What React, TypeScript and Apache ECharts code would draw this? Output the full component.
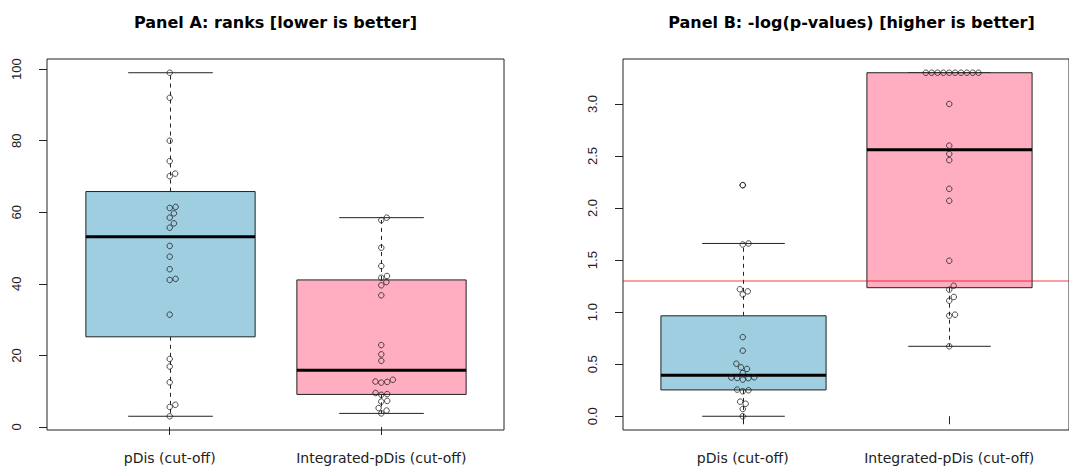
import React, { useEffect, useRef } from "react";
import * as echarts from "echarts";

// ---------- data ----------
const categories = ["pDis (cut-off)", "Integrated-pDis (cut-off)"];
const titleA = "Panel A: ranks [lower is better]";
const titleB = "Panel B: -log(p-values) [higher is better]";

const rankPDis = [99, 92, 80, 74.3, 70.8, 70.1, 61.5, 61.2, 59.7, 58.5, 56.9, 55.7, 50.6, 47.6, 44.1, 41.4, 41.1, 31.4, 19, 16.9, 12.5, 6.2, 5.6, 3];
const rankIntegrated = [58.5, 57.8, 50.1, 45.0, 42.2, 41.7, 40.5, 39.6, 36.8, 22.9, 20.3, 18.5, 13.2, 12.7, 12.6, 12.4, 9.5, 9.2, 9.0, 7.3, 7.1, 5.3, 4.6, 3.8];

const logpPDis = [2.22, 1.66, 1.65, 1.22, 1.2, 1.17, 0.76, 0.63, 0.505, 0.47, 0.455, 0.415, 0.374, 0.368, 0.352, 0.366, 0.372, 0.256, 0.25, 0.24, 0.14, 0.12, 0.07, 0.0];
const logpIntegrated = [3.3, 3.3, 3.3, 3.3, 3.3, 3.3, 3.3, 3.3, 3.3, 3.3, 3.0, 2.6, 2.52, 2.46, 2.185, 2.07, 1.494, 1.254, 1.216, 1.146, 1.11, 0.976, 0.966, 0.672];

const ticksA = [0, 20, 40, 60, 80, 100];
const ticksB = [0, 0.5, 1.0, 1.5, 2.0, 2.5, 3.0];
const cutoff = -Math.log10(0.05);

// ---------- layout ----------
const W = 1069;
const H = 469;
const gridTop = 59;
const gridH = 371;
const gridW = 457;
const gridLeftA = 47;
const gridLeftB = 623;
const xMin = 0.42;
const xMax = 2.58;
const boxColors = ["#9ECEE0", "#FEAEC0"];
const fontFamily = "'Liberation Sans', Arial, Helvetica, sans-serif";
const wideFont = "'DejaVu Sans', 'Liberation Sans', sans-serif";
const swarmSpacing = 6.0;

// R boxplot stats (fivenum hinges, 1.5 IQR whiskers)
function fivenumStats(vals: number[]) {
  const x = [...vals].sort((a, b) => a - b);
  const n = x.length;
  const n4 = Math.floor((n + 3) / 2) / 2;
  const d = [1, n4, (n + 1) / 2, n + 1 - n4, n];
  const q = d.map((di) => 0.5 * (x[Math.floor(di) - 1] + x[Math.ceil(di) - 1]));
  const iqr = q[3] - q[1];
  const loF = q[1] - 1.5 * iqr;
  const hiF = q[3] + 1.5 * iqr;
  const inside = x.filter((v) => v >= loF && v <= hiF);
  const lo = Math.min(...inside);
  const hi = Math.max(...inside);
  const out = x.filter((v) => v < loF || v > hiF);
  return { lo, q1: q[1], med: q[2], q3: q[3], hi, out };
}

// beeswarm "swarm" placement (ascending priority), offsets in px
function swarm(values: number[], pxPerY: number, s: number): number[] {
  const order = values.map((_, i) => i).sort((a, b) => values[a] - values[b]);
  const xs = new Array(values.length).fill(0);
  const placed: number[] = [];
  for (const i of order) {
    const yi = values[i] * pxPerY;
    const near = placed.filter((j) => Math.abs(values[j] * pxPerY - yi) < s);
    if (near.length === 0) {
      xs[i] = 0;
      placed.push(i);
      continue;
    }
    const cands = [0];
    near.forEach((j) => {
      const dy = values[j] * pxPerY - yi;
      cands.push(xs[j] + Math.sqrt(s * s - dy * dy));
    });
    near.forEach((j) => {
      const dy = values[j] * pxPerY - yi;
      cands.push(xs[j] - Math.sqrt(s * s - dy * dy));
    });
    let best = Infinity;
    for (const c of cands) {
      const ok = near.every((j) => {
        const dx = c - xs[j];
        const dy = values[j] * pxPerY - yi;
        return dx * dx + dy * dy >= s * s - 1e-6;
      });
      if (ok && Math.abs(c) < Math.abs(best) - 1e-9) best = c;
    }
    xs[i] = best;
    placed.push(i);
  }
  return xs;
}

function yRange(groups: number[][]) {
  const all = groups.flat();
  const mn = Math.min(...all);
  const mx = Math.max(...all);
  const pad = 0.04 * (mx - mn);
  return [mn - pad, mx + pad];
}

export default function App() {
  const ref = useRef<HTMLDivElement>(null);

  useEffect(() => {
    document.body.style.margin = "0";
    if (!ref.current) return;
    const chart = echarts.init(ref.current, undefined, { renderer: "svg" });

    const panels = [
      { groups: [rankPDis, rankIntegrated], ticks: ticksA, fmt: (v: number) => String(v), left: gridLeftA, title: titleA },
      { groups: [logpPDis, logpIntegrated], ticks: ticksB, fmt: (v: number) => v.toFixed(1), left: gridLeftB, title: titleB },
    ];

    const grids: any[] = [];
    const xAxes: any[] = [];
    const yAxes: any[] = [];
    const series: any[] = [];
    const titles: any[] = [];
    const pxPerX = gridW / (xMax - xMin);

    panels.forEach((p, pi) => {
      const [yMin, yMax] = yRange(p.groups);
      const pxPerY = gridH / (yMax - yMin);
      grids.push({ left: p.left, top: gridTop, width: gridW, height: gridH, show: true, borderColor: "#222", borderWidth: 1, backgroundColor: "transparent" });
      titles.push({
        text: p.title,
        left: p.left + gridW / 2,
        top: 14,
        padding: 0,
        textAlign: "center",
        textStyle: { fontFamily: wideFont, fontWeight: "bold", fontSize: 16, color: "#000" },
      });
      xAxes.push({
        gridIndex: pi,
        type: "value",
        min: xMin,
        max: xMax,
        axisLine: { show: false },
        splitLine: { show: false },
        axisTick: { show: true, length: 8, inside: false, customValues: [1, 2], lineStyle: { color: "#222", width: 1 } },
        axisLabel: {
          show: true,
          customValues: [1, 2],
          margin: 21,
          fontFamily: wideFont,
          fontSize: 14,
          color: "#222",
          formatter: (v: number) => categories[Math.round(v) - 1] ?? "",
        },
      });
      yAxes.push({
        gridIndex: pi,
        type: "value",
        min: yMin,
        max: yMax,
        axisLine: { show: false },
        splitLine: { show: false },
        axisTick: { show: true, length: 8, inside: false, customValues: p.ticks, lineStyle: { color: "#222", width: 1 } },
        axisLabel: {
          show: true,
          customValues: p.ticks,
          rotate: 90,
          margin: 24,
          fontFamily,
          fontSize: 13,
          color: "#222",
          formatter: (v: number) => p.fmt(v),
        },
      });

      const stats = p.groups.map((g) => fivenumStats(g));
      series.push({
        type: "custom",
        xAxisIndex: pi,
        yAxisIndex: pi,
        z: 2,
        silent: true,
        data: stats.map((s, k) => [k + 1, s.lo, s.q1, s.med, s.q3, s.hi]),
        renderItem: (params: any, api: any) => {
          const x = api.value(0);
          const lo = api.coord([x, api.value(1)]);
          const q1 = api.coord([x, api.value(2)]);
          const md = api.coord([x, api.value(3)]);
          const q3 = api.coord([x, api.value(4)]);
          const hi = api.coord([x, api.value(5)]);
          const bw = api.size([0.8, 0])[0];
          const cw = api.size([0.4, 0])[0];
          const cx = Math.round(lo[0]) + 0.5;
          const ln = { stroke: "#222", lineWidth: 1 };
          return {
            type: "group",
            children: [
              { type: "line", shape: { x1: cx, y1: q3[1], x2: cx, y2: hi[1] }, style: { ...ln, lineDash: [4, 4] } },
              { type: "line", shape: { x1: cx, y1: q1[1], x2: cx, y2: lo[1] }, style: { ...ln, lineDash: [4, 4] } },
              { type: "line", shape: { x1: cx - cw / 2, y1: hi[1], x2: cx + cw / 2, y2: hi[1] }, style: ln },
              { type: "line", shape: { x1: cx - cw / 2, y1: lo[1], x2: cx + cw / 2, y2: lo[1] }, style: ln },
              { type: "rect", shape: { x: cx - bw / 2, y: q3[1], width: bw, height: q1[1] - q3[1] }, style: { fill: boxColors[params.dataIndex], stroke: "#222", lineWidth: 1 } },
              { type: "line", shape: { x1: cx - bw / 2, y1: md[1], x2: cx + bw / 2, y2: md[1] }, style: { stroke: "#000", lineWidth: 3 } },
            ],
          };
        },
      });

      // outliers (drawn by boxplot)
      const outData: number[][] = [];
      stats.forEach((s, k) => s.out.forEach((v) => outData.push([k + 1, v])));
      series.push({
        type: "scatter",
        xAxisIndex: pi,
        yAxisIndex: pi,
        z: 3,
        silent: true,
        symbol: "circle",
        symbolSize: 5.5,
        itemStyle: { color: "rgba(0,0,0,0)", borderColor: "#222", borderWidth: 1 },
        data: outData,
      });

      // beeswarm points
      p.groups.forEach((g, k) => {
        const offs = swarm(g, pxPerY, swarmSpacing);
        series.push({
          type: "scatter",
          xAxisIndex: pi,
          yAxisIndex: pi,
          z: 4,
          silent: true,
          symbol: "circle",
          symbolSize: 5.5,
          itemStyle: { color: "rgba(0,0,0,0)", borderColor: "#222", borderWidth: 1 },
          data: g.map((v, i) => [k + 1 + offs[i] / pxPerX, v]),
        });
      });

      if (pi === 1) {
        series.push({
          type: "line",
          xAxisIndex: pi,
          yAxisIndex: pi,
          z: 5,
          silent: true,
          data: [],
          markLine: {
            silent: true,
            symbol: ["none", "none"],
            label: { show: false },
            lineStyle: { color: "rgba(240,0,0,0.5)", width: 1.5, type: "solid" },
            data: [{ yAxis: cutoff }],
          },
        });
      }
    });

    chart.setOption({
      animation: false,
      backgroundColor: "#fff",
      title: titles,
      grid: grids,
      xAxis: xAxes,
      yAxis: yAxes,
      series,
    });

    return () => chart.dispose();
  }, []);

  return <div ref={ref} style={{ width: W, height: H }} />;
}
